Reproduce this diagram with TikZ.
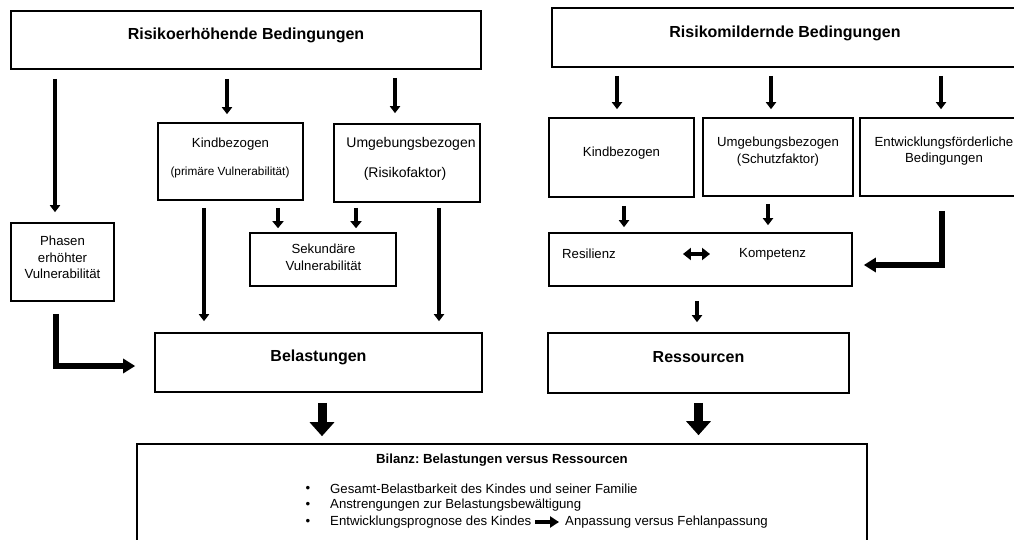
\documentclass[tikz,border=0pt]{standalone}
\usepackage{fontspec}
\setmainfont{Liberation Sans}
\frenchspacing
\usetikzlibrary{arrows.meta,calc}
\tikzset{
  box/.style={draw, line width=1.6pt, inner sep=0pt},
  txt/.style={inner sep=0pt, font=\fontsize{13.2}{16.5}\selectfont, align=center},
  txtsm/.style={inner sep=0pt, font=\fontsize{11.8}{14}\selectfont},
  txtl/.style={inner sep=0pt, font=\fontsize{14}{17}\selectfont},
  head/.style={inner sep=0pt, font=\fontsize{16}{19}\selectfont\bfseries},
  headsm/.style={inner sep=0pt, font=\fontsize{13.2}{16}\selectfont\bfseries},
  arr/.style={line width=3.5pt, -{Triangle[length=7pt,width=10pt]}},
  arrs/.style={line width=4.5pt, -{Triangle[length=7pt,width=11pt]}},
  elbow/.style={line width=5.5pt, -{Triangle[length=12pt,width=14pt]}},
  big/.style={line width=9pt, -{Triangle[length=14pt,width=24pt]}},
  dbl/.style={line width=4pt, {Triangle[length=8pt,width=12pt]}-{Triangle[length=8pt,width=12pt]}},
  inl/.style={line width=4pt, -{Triangle[length=9pt,width=11pt]}},
}
\begin{document}
\begin{tikzpicture}[x=1pt,y=-1pt]
\useasboundingbox (0,0) rectangle (1014,540);
% --- boxes ---
\node[box, minimum width=470pt, minimum height=58pt] (A) at (246,40) {};
\node[box, minimum width=466pt, minimum height=59pt] (B) at (785,37.5) {};
\node[box, minimum width=145pt, minimum height=77pt] (KL) at (230.5,161.5) {};
\node[box, minimum width=146pt, minimum height=78pt] (UL) at (407,163) {};
\node[box, minimum width=103pt, minimum height=78pt] (P) at (62.5,262) {};
\node[box, minimum width=146pt, minimum height=53pt] (S) at (323,259.5) {};
\node[box, minimum width=327pt, minimum height=59pt] (Bel) at (318.5,362.5) {};
\node[box, minimum width=145pt, minimum height=79pt] (KR) at (621.5,157.5) {};
\node[box, minimum width=150pt, minimum height=78pt] (UR) at (778,157) {};
\node[box, minimum width=168pt, minimum height=78pt] (ER) at (944,157) {};
\node[box, minimum width=303pt, minimum height=53pt] (RK) at (700.5,259.5) {};
\node[box, minimum width=301pt, minimum height=60pt] (Ress) at (698.5,363) {};
\node[box, minimum width=730pt, minimum height=116pt] (Bil) at (502,502) {};
% --- texts ---
\node[head] (tA) at (246,35) {Risikoerhöhende Bedingungen};
\node[head] (tB) at (785,33) {Risikomildernde Bedingungen};
\node[txt] (tKL1) at (230.5,144) {Kindbezogen};
\node[txtsm] (tKL2) at (230,172.5) {(primäre Vulnerabilität)};
\node[txtl] (tUL1) at (411,144) {Umgebungsbezogen};
\node[txtl] (tUL2) at (405,174) {(Risikofaktor)};
\node[txt] (tP) at (62.5,257.5) {Phasen\\erhöhter\\Vulnerabilität};
\node[txt] (tS) at (323.5,257.5) {Sekundäre\\Vulnerabilität};
\node[head] (tBel) at (318.5,357) {Belastungen};
\node[txt] (tKR) at (621.5,153) {Kindbezogen};
\node[txt] (tUR) at (778,151.5) {Umgebungsbezogen\\(Schutzfaktor)};
\node[txt] (tER) at (944,151) {Entwicklungsförderliche\\Bedingungen};
\node[txt, anchor=west] (res) at (562,254) {Resilienz};
\node[txt, anchor=west] (komp) at (739,254) {Kompetenz};
\node[head] (tRess) at (698.5,357) {Ressourcen};
\node[headsm] (tBil) at (502,460) {Bilanz: Belastungen versus Ressourcen};
\node[txt] (b1) at (308,489) {\textbullet};
\node[txt] (b2) at (308,505) {\textbullet};
\node[txt] (b3) at (308,522) {\textbullet};
\node[txt, anchor=west] (l1) at (330,489) {Gesamt-Belastbarkeit des Kindes und seiner Familie};
\node[txt, anchor=west] (l2) at (330,505) {Anstrengungen zur Belastungsbewältigung};
\node[txt, anchor=west] (e1) at (330,522) {Entwicklungsprognose des Kindes};
\node[txt, anchor=west] (e2) at (565,522) {Anpassung versus Fehlanpassung};
% --- connectors ---
\draw[arr] ($(A.south -| P.north)+(-7.5,9)$) -- ($(P.north)+(-7.5,-10)$);
\draw[arr] ($(A.south -| KL.north)+(-3.5,9)$) -- ($(KL.north)+(-3.5,-8)$);
\draw[arr] ($(A.south -| UL.north)+(-12,8)$) -- ($(UL.north)+(-12,-10)$);
\draw[arr] ($(B.south -| KR.north)+(-4.5,8)$) -- ($(KR.north)+(-4.5,-8)$);
\draw[arr] ($(B.south -| UR.north)+(-7,8)$) -- ($(UR.north)+(-7,-8)$);
\draw[arr] ($(B.south -| ER.north)+(-3,8)$) -- ($(ER.north)+(-3,-8)$);
\draw[arrs] ($(KL.south -| S.north)+(-45,7)$) -- ($(S.north)+(-45,-4)$);
\draw[arrs] ($(UL.south -| S.north)+(33,5)$) -- ($(S.north)+(33,-4)$);
\draw[arr] ($(KL.south)+(-26.5,7)$) -- ($(Bel.north -| KL.south)+(-26.5,-11)$);
\draw[arr] ($(UL.south)+(32,5)$) -- ($(Bel.north -| UL.south)+(32,-11)$);
\draw[elbow] ($(P.south)+(-6.5,12)$) |- ($(Bel.west)+(-19,3.5)$);
\draw[arr] ($(KR.south)+(2.5,8)$) -- ($(RK.north -| KR.south)+(2.5,-5)$);
\draw[arr] ($(UR.south)+(-10,7)$) -- ($(RK.north -| UR.south)+(-10,-7)$);
\draw[elbow] ($(ER.south)+(-2,14)$) |- ($(RK.east)+(11,5.5)$);
\draw[arr] ($(RK.south)+(-3.5,14)$) -- ($(Ress.north)+(-1.5,-10)$);
\draw[big] ($(Bel.south)+(3.5,10)$) -- ($(Bil.north -| Bel.south)+(3.5,-7)$);
\draw[big] ($(Ress.south)+(0,9)$) -- ($(Bil.north -| Ress.south)+(0,-8)$);
\draw[dbl] ($(res.east)+(67,0)$) -- ($(komp.west)+(-29,0)$);
\draw[inl] ($(e1.east)+(4,0)$) -- ($(e2.west)+(-6,0)$);
\end{tikzpicture}
\end{document}
